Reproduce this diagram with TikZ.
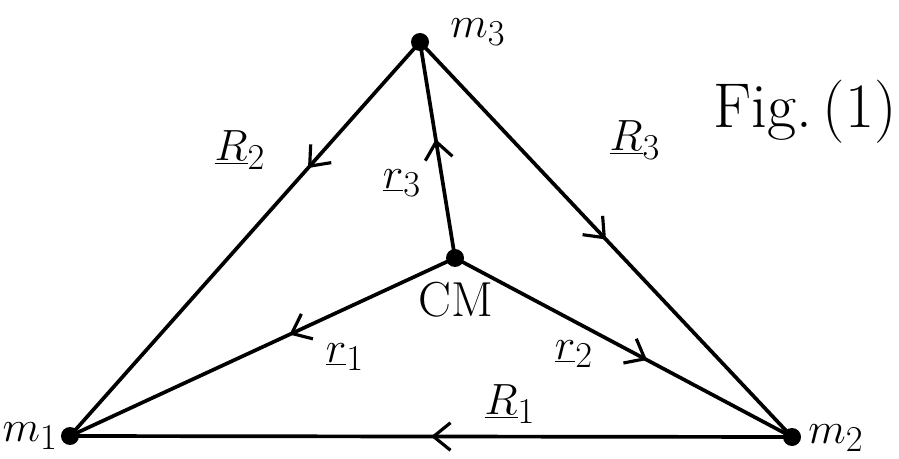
\documentclass[tikz,border=0pt]{standalone}
\usetikzlibrary{arrows.meta,decorations.markings}
\begin{document}
\begin{tikzpicture}[x=0.02cm,y=-0.02cm,
  dot/.style={circle,fill=black,inner sep=0pt,minimum size=0.36cm},
  lbl/.style={inner sep=0pt,font=\fontsize{32}{36}\selectfont},
  seg/.style={line width=2.1pt},
  arrowat/.style={postaction={decorate},decoration={markings,mark=at position #1 with {\arrow[line width=1.8pt]{Straight Barb[length=0.34cm,width=0.55cm]}}}}]
\useasboundingbox (0,0) rectangle (899,459);
\node[dot] (m3) at (420,42) {};
\node[dot] (m1) at (70,436) {};
\node[dot] (m2) at (792,437) {};
\node[dot] (cm) at (455,258) {};
\draw[seg,arrowat=0.32] (m3.center) -- (m1.center);
\draw[seg,arrowat=0.50] (m3.center) -- (m2.center);
\draw[seg,arrowat=0.50] (m2.center) -- (m1.center);
\draw[seg,arrowat=0.55] (cm.center) -- (m3.center);
\draw[seg,arrowat=0.43] (cm.center) -- (m1.center);
\draw[seg,arrowat=0.57] (cm.center) -- (m2.center);
\node[lbl,anchor=west] (lm3) at (450,32) {$m_3$};
\node[lbl,anchor=east] (lm1) at (58,436) {$m_1$};
\node[lbl,anchor=west] (lm2) at (808,438) {$m_2$};
\node[lbl,font=\fontsize{28}{32}\selectfont] (lcm) at (456,300) {CM};
\node[lbl,anchor=east,font=\fontsize{36}{40}\selectfont] (fig) at (897,112) {Fig.\,(1)};
\node[lbl] (R2) at (240,150) {$\underline{R}_2$};
\node[lbl] (r3) at (402,183) {$\underline{r}_3$};
\node[lbl] (R3) at (635,140) {$\underline{R}_3$};
\node[lbl] (r1) at (345,357) {$\underline{r}_1$};
\node[lbl] (r2) at (574,354) {$\underline{r}_2$};
\node[lbl] (R1) at (510,404) {$\underline{R}_1$};
\end{tikzpicture}
\end{document}
